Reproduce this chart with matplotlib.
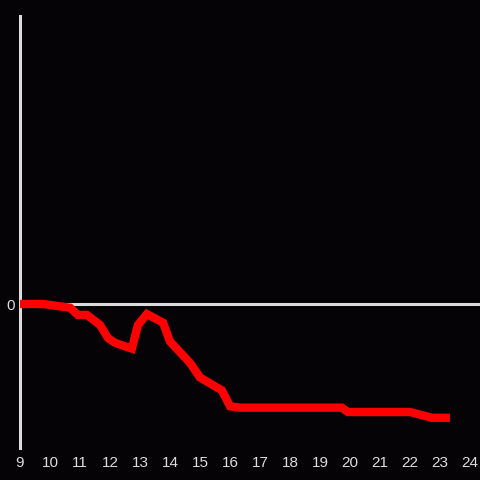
import matplotlib
matplotlib.use("Agg")
import matplotlib.pyplot as plt

hours = [9.0, 9.77, 10.67, 10.93, 11.23, 11.67, 11.93, 12.17, 12.73, 12.93, 13.23,
         13.77, 14.0, 14.67, 15.0, 15.73, 16.0, 16.33, 19.73, 19.93, 22.0, 22.73, 23.33]
values = [0, 0, -0.026, -0.076, -0.076, -0.146, -0.236, -0.27, -0.31, -0.146, -0.07,
          -0.13, -0.26, -0.41, -0.51, -0.6, -0.71, -0.72, -0.72, -0.75, -0.75, -0.79, -0.79]
xticks = list(range(9, 25))
yticks = [0]

bg = "#050305"
fg = "#dcdcdc"

fig = plt.figure(figsize=(4.8, 4.8), dpi=100, facecolor=bg)
ax = fig.add_axes([20/480, 32/480, 460/480, 432/480], facecolor=bg)
ax.set_xlim(9, 9 + 460/30)
ax.set_ylim(-1, 2)
ax.axhline(0, color=fg, lw=2.2, zorder=1)
ax.plot(hours, values, color="#ff0000", lw=6, zorder=3,
        solid_joinstyle="miter", solid_capstyle="butt")

for s in ["top", "right", "bottom"]:
    ax.spines[s].set_visible(False)
ax.spines["left"].set_color(fg)
ax.spines["left"].set_linewidth(2.2)

ax.set_xticks(xticks)
ax.set_yticks(yticks)
ax.tick_params(length=0, colors=fg, labelsize=11, pad=6)
for lab in ax.get_xticklabels() + ax.get_yticklabels():
    lab.set_family("Liberation Sans")
ax.tick_params(axis="y", pad=4)

fig.savefig("out.png", dpi=100, facecolor=bg)
